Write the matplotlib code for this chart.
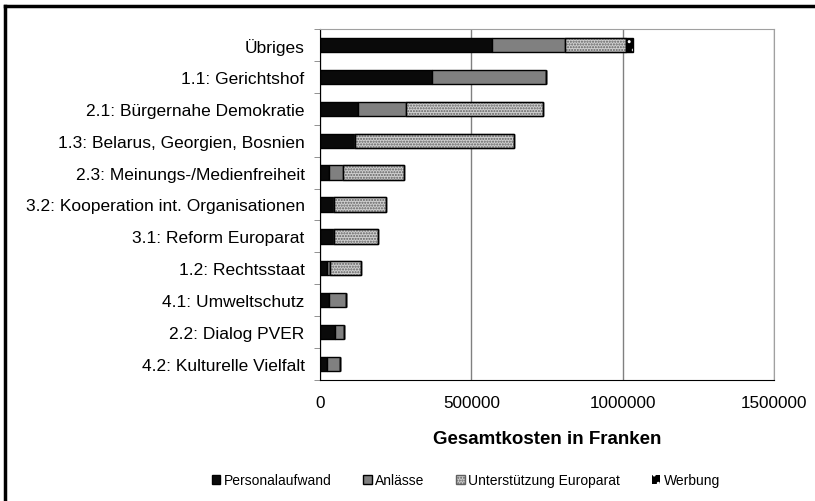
import matplotlib
matplotlib.use("Agg")
from matplotlib import pyplot as plt
from matplotlib.lines import Line2D
import numpy as np

plt.rcParams['font.family'] = ['Liberation Sans', 'DejaVu Sans']
plt.rcParams['hatch.linewidth'] = 1.0

categories = ["Übriges", "1.1: Gerichtshof", "2.1: Bürgernahe Demokratie",
              "1.3: Belarus, Georgien, Bosnien", "2.3: Meinungs-/Medienfreiheit",
              "3.2: Kooperation int. Organisationen", "3.1: Reform Europarat",
              "1.2: Rechtsstaat", "4.1: Umweltschutz", "2.2: Dialog PVER",
              "4.2: Kulturelle Vielfalt"]

personal = [568000, 371000, 124500, 117000, 28500, 45000, 45000, 23000, 31000, 49500, 23000]
anlaesse = [243000, 375000, 160000, 0, 47500, 0, 0, 10000, 55000, 28500, 43000]
europarat = [199000, 0, 452500, 524000, 202000, 173500, 147000, 101500, 0, 0, 0]
werbung = [25000, 0, 0, 0, 0, 0, 0, 0, 0, 0, 0]

x_ticks = [0, 500000, 1000000, 1500000]

fig = plt.figure(figsize=(8.15, 5.02), dpi=100)
ax = fig.add_axes([320/815, 1-381/502, (774-320)/815, (381-30)/502])

y = np.arange(len(categories))
h = 0.45
left = np.zeros(len(categories))
b1 = ax.barh(y, personal, h, left=left, color="#0a0a0a", edgecolor="black", linewidth=1, label="Personalaufwand")
left += personal
b2 = ax.barh(y, anlaesse, h, left=left, color="#808080", edgecolor="black", linewidth=1, label="Anlässe")
left += anlaesse
b3 = ax.barh(y, europarat, h, left=left, color="#cfcfcf", edgecolor="black", linewidth=1, label="Unterstützung Europarat")
for p in b3:
    p.set_hatch("......")
    p.set_edgecolor("#606060")
ax.barh(y, europarat, h, left=left, color="none", edgecolor="black", linewidth=1)
left += europarat
b4 = ax.barh(y, werbung, h, left=left, color="black", edgecolor="white", linewidth=0, label="Werbung")
for p in b4:
    p.set_hatch("..")
ax.barh(y, werbung, h, left=left, color="none", edgecolor="black", linewidth=1)

ax.set_xlim(0, 1500000)
ax.set_ylim(len(categories) - 0.5, -0.5)
ax.set_xticks(x_ticks)
ax.set_xticklabels([str(v) for v in x_ticks], fontsize=12.3)
ax.set_yticks(y)
ax.set_yticklabels(categories, fontsize=12.5)
ax.tick_params(axis="y", length=0, pad=11)
ax.tick_params(axis="x", length=0, pad=11)
ax.set_yticks(np.arange(len(categories) + 1) - 0.5, minor=True)
ax.tick_params(axis="y", which="minor", length=4, color="#808080")
ax.grid(axis="x", color="#808080", linewidth=1)
ax.set_axisbelow(True)
ax.spines["top"].set_color("#a0a0a0")
ax.spines["right"].set_color("#a0a0a0")
ax.spines["left"].set_color("black")
ax.spines["bottom"].set_color("black")
ax.set_xlabel("Gesamtkosten in Franken", fontsize=13.5, fontweight="bold", labelpad=14)

fig.legend(handles=[b1, b2, b3, b4], loc="center", bbox_to_anchor=(466/815, 1-481/502),
           ncol=4, frameon=False, fontsize=10, handlelength=0.6, handleheight=0.6,
           handletextpad=0.25, columnspacing=2.3)

# figure border (top and left only)
fig.add_artist(Line2D([5/815, 1], [1-7/502, 1-7/502], color="black", linewidth=2.5, transform=fig.transFigure))
fig.add_artist(Line2D([5/815, 5/815], [0, 1-7/502], color="black", linewidth=2.5, transform=fig.transFigure))

plt.savefig("out.png", dpi=100)
